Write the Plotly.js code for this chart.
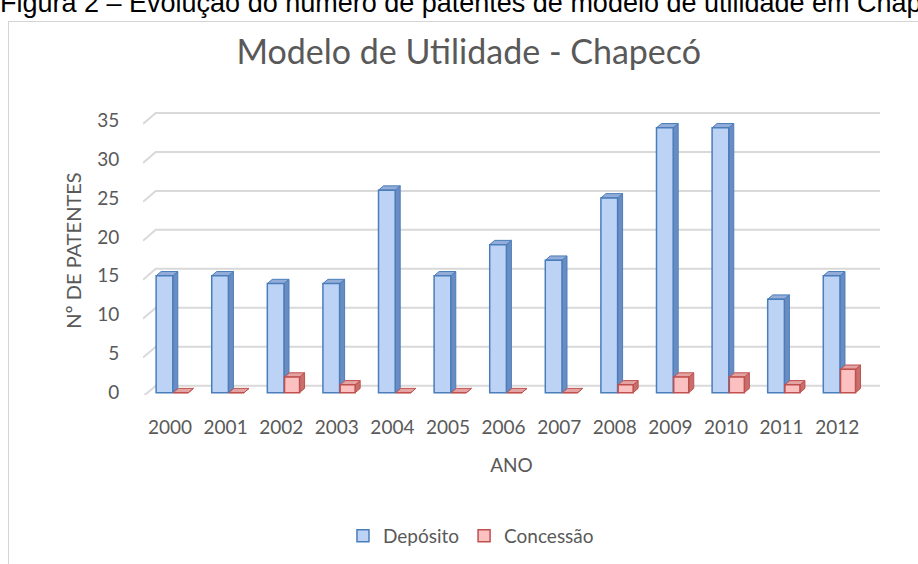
<!DOCTYPE html>
<html>
<head>
<meta charset="utf-8">
<script src="https://cdn.plot.ly/plotly-3.0.1.min.js"></script>
<style>
  html, body { margin:0; padding:0; width:918px; height:564px; overflow:hidden; background:#fff; }
  #caption { position:absolute; left:0; top:-10px; font-family:"Liberation Sans", Arial, sans-serif; font-size:27px; color:#000; white-space:nowrap; line-height:26px; }
  #frame { position:absolute; left:8px; top:21px; width:940px; height:600px; border:1px solid #d4d4d4; box-sizing:border-box; }
  #chart { position:absolute; left:0; top:0; width:918px; height:564px; }
</style>
</head>
<body>
<div id="caption">Figura 2 – Evolução do número de patentes de modelo de utilidade em Chapecó</div>
<div id="frame"></div>
<div id="chart"></div>
<script>
const years = ['2000','2001','2002','2003','2004','2005','2006','2007','2008','2009','2010','2011','2012'];
const deposito = [15,15,14,14,26,15,19,17,25,34,34,12,15];
const concessao = [0,0,2,1,0,0,0,0,1,2,2,1,3];
const yTicks = [0,5,10,15,20,25,30,35];

const idx = years.map((_, i) => i);
const XMIN = -0.486, XMAX = 12.77;
const DX = 0.09, DY = 0.55;      // 3D depth (data units)
const GRID_BACK = 0.9;           // back-plane offset for gridlines

const series = [
  { name: 'Depósito', y: deposito, offset: -0.25, width: 0.30,
    front: '#bcd3f6', line: '#4a7ebb', side: '#6a8cc2', top: '#93acd8' },
  { name: 'Concessão', y: concessao, offset: 0.06, width: 0.27,
    front: '#fbc0c0', line: '#c0504d', side: '#c86f6d', top: '#e3a3a2' }
];

const traces = series.map(s => ({
  type: 'bar', name: s.name, x: idx, y: s.y,
  offset: s.offset, width: s.width,
  marker: { color: s.front, line: { color: s.line, width: 1.5 } },
  hoverinfo: 'x+y'
}));

const shapes = [];
yTicks.forEach(t => {
  shapes.push({ type: 'path', layer: 'below', xref: 'x', yref: 'y',
    path: `M ${XMIN},${t - 0.5} L ${XMIN + 0.23},${t + GRID_BACK} L ${XMAX},${t + GRID_BACK}`,
    line: { color: '#d9d9d9', width: 2 } });
});
series.forEach(s => {
  s.y.forEach((v, i) => {
    const x0 = i + s.offset, x1 = x0 + s.width;
    shapes.push({ type: 'path', layer: 'between', xref: 'x', yref: 'y',
      path: `M ${x1},0 L ${x1 + DX},${DY} L ${x1 + DX},${v + DY} L ${x1},${v} Z`,
      fillcolor: s.side, line: { color: s.line, width: 1 } });
    shapes.push({ type: 'path', layer: 'between', xref: 'x', yref: 'y',
      path: `M ${x0},${v} L ${x0 + DX},${v + DY} L ${x1 + DX},${v + DY} L ${x1},${v} Z`,
      fillcolor: s.top, line: { color: s.line, width: 1 } });
  });
});

const FONT = 'Lato, "Open Sans", sans-serif';
const GREY = '#595959';
const layout = {
  width: 918, height: 564,
  margin: { l: 143, r: 38, t: 106, b: 169 },
  paper_bgcolor: 'rgba(0,0,0,0)', plot_bgcolor: 'rgba(0,0,0,0)',
  barmode: 'overlay',
  font: { family: FONT, color: GREY, size: 19 },
  title: { text: 'Modelo de Utilidade - Chapecó', font: { family: FONT, size: 34, color: GREY },
           xref: 'paper', x: 0.442, xanchor: 'center', yref: 'container', y: 1 - 52/564, yanchor: 'middle' },
  xaxis: {
    range: [XMIN, XMAX], tickvals: idx, ticktext: years, automargin: false,
    showgrid: false, zeroline: false, showline: false,
    ticks: 'outside', ticklen: 15, tickcolor: 'rgba(0,0,0,0)',
    tickfont: { family: FONT, size: 19, color: GREY },
    title: { text: 'ANO', standoff: 21, font: { family: FONT, size: 19, color: GREY } }
  },
  yaxis: {
    range: [-0.3, 36.8], tickvals: yTicks, automargin: false,
    showgrid: false, zeroline: false, showline: false,
    ticks: 'outside', ticklen: 19, tickcolor: 'rgba(0,0,0,0)',
    tickfont: { family: FONT, size: 19, color: GREY },
    title: { text: 'Nº DE PATENTES', standoff: 10, font: { family: FONT, size: 20, color: GREY } }
  },
  legend: { orientation: 'h', x: 0.445, xanchor: 'center', yref: 'container', y: 1 - 536/564, yanchor: 'middle',
            font: { family: FONT, size: 19, color: GREY }, bgcolor: 'rgba(0,0,0,0)' },
  shapes: shapes,
  showlegend: true
};

Plotly.newPlot('chart', traces, layout, { displayModeBar: false, staticPlot: true });
</script>
</body>
</html>
